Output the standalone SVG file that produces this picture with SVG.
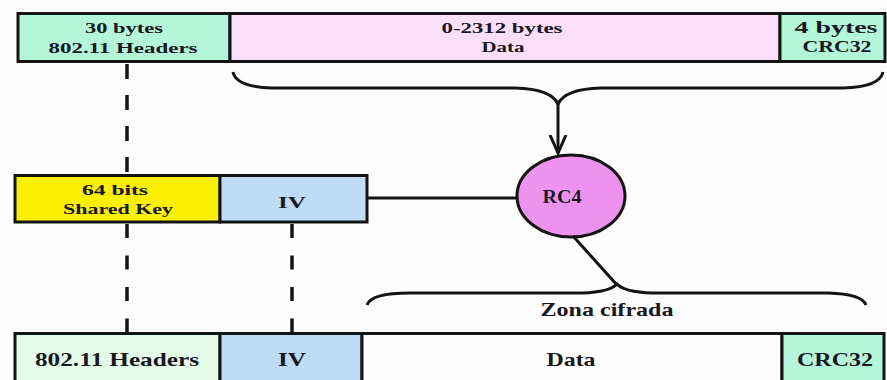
<svg xmlns="http://www.w3.org/2000/svg" width="887" height="380" viewBox="0 0 887 380">
<defs>
<style>
.box{stroke:#141414;stroke-width:3}
.t{font-family:"Liberation Serif","DejaVu Serif",serif;font-weight:bold;fill:#18181f;text-anchor:middle}
.s15{font-size:15px}
.s16{font-size:16px}
.s18{font-size:18px}
.s19{font-size:19px}
.ln{stroke:#141414;stroke-width:3;fill:none}
.dash{stroke:#141414;stroke-width:3.5;fill:none}
</style>
<marker id="arr" markerUnits="userSpaceOnUse" viewBox="0 -10 20 20" refX="18" refY="0" markerWidth="20" markerHeight="20" orient="auto">
<path d="M0,-8 L18,0 L0,8" fill="none" stroke="#141414" stroke-width="3"/>
</marker>
</defs>
<rect x="0" y="0" width="887" height="380" fill="#fdfdfd"/>

<g id="top-headers">
<rect class="box" x="18" y="13.5" width="212" height="48" fill="#b4f6da"/>
<text class="t s15" x="124" y="33" textLength="78" lengthAdjust="spacingAndGlyphs">30 bytes</text>
<text class="t s15" x="123" y="53" textLength="149" lengthAdjust="spacingAndGlyphs">802.11 Headers</text>
</g>
<g id="top-data">
<rect class="box" x="230" y="13.5" width="550" height="48" fill="#fbdff8"/>
<text class="t s15" x="502" y="33" textLength="121" lengthAdjust="spacingAndGlyphs">0-2312 bytes</text>
<text class="t s15" x="503" y="52" textLength="43" lengthAdjust="spacingAndGlyphs">Data</text>
</g>
<g id="top-crc">
<rect class="box" x="780" y="13.5" width="105" height="48" fill="#b4f6da"/>
<text class="t s16" x="836" y="33" textLength="83" lengthAdjust="spacingAndGlyphs">4 bytes</text>
<text class="t s16" x="837" y="52" textLength="69" lengthAdjust="spacingAndGlyphs">CRC32</text>
</g>

<g id="shared-key">
<rect class="box" x="15" y="175.5" width="205" height="46.5" fill="#fbf000"/>
<text class="t s15" x="115" y="195" textLength="66" lengthAdjust="spacingAndGlyphs">64 bits</text>
<text class="t s15" x="118" y="214" textLength="110" lengthAdjust="spacingAndGlyphs">Shared Key</text>
</g>
<g id="iv-key">
<rect class="box" x="220" y="175.5" width="147" height="46.5" fill="#bedcf6"/>
<text class="t s16" x="292" y="208" textLength="28" lengthAdjust="spacingAndGlyphs">IV</text>
</g>

<g id="rc4">
<ellipse cx="571" cy="196" rx="54" ry="41" fill="#ee92f0" stroke="#141414" stroke-width="3"/>
<text class="t s18" x="562" y="203" textLength="39" lengthAdjust="spacingAndGlyphs">RC4</text>
</g>

<g id="bottom-headers">
<rect class="box" x="15" y="333.5" width="205" height="50" fill="#e4fbe8"/>
<text class="t s19" x="117" y="366" textLength="164" lengthAdjust="spacingAndGlyphs">802.11 Headers</text>
</g>
<g id="bottom-iv">
<rect class="box" x="220" y="333.5" width="142" height="50" fill="#bedcf6"/>
<text class="t s19" x="292" y="366" textLength="28" lengthAdjust="spacingAndGlyphs">IV</text>
</g>
<g id="bottom-data">
<rect class="box" x="362" y="333.5" width="420" height="50" fill="#fefefe"/>
<text class="t s19" x="571" y="366" textLength="49" lengthAdjust="spacingAndGlyphs">Data</text>
</g>
<g id="bottom-crc">
<rect class="box" x="782" y="333.5" width="102" height="50" fill="#b4f6da"/>
<text class="t s19" x="835" y="366" textLength="76" lengthAdjust="spacingAndGlyphs">CRC32</text>
</g>

<g id="zona-cifrada">
<text class="t s19" x="607" y="316" textLength="133" lengthAdjust="spacingAndGlyphs">Zona cifrada</text>
</g>

<g id="connectors">
<path class="ln" d="M233,72 Q236,87 272,88 L515,88 Q551,89 558,104 Q565,89 601,88 L843,88 Q880,87 883,72"/>
<path class="ln" d="M558,104 L558,153" marker-end="url(#arr)"/>
<path class="ln" d="M367,198 L517,198"/>
<path class="ln" d="M573,236 L617,285"/>
<path class="ln" d="M367,305 Q371,293 410,293 L582,293 Q610,292 617,284 Q624,292 652,293 L828,293 Q862,294 866,305"/>
<path class="dash" d="M127,64 L127,175" stroke-dasharray="15 16"/>
<path class="dash" d="M127,224 L127,333" stroke-dasharray="14 17.5"/>
<path class="dash" d="M292,224 L292,333" stroke-dasharray="14 17.5"/>
</g>
</svg>
